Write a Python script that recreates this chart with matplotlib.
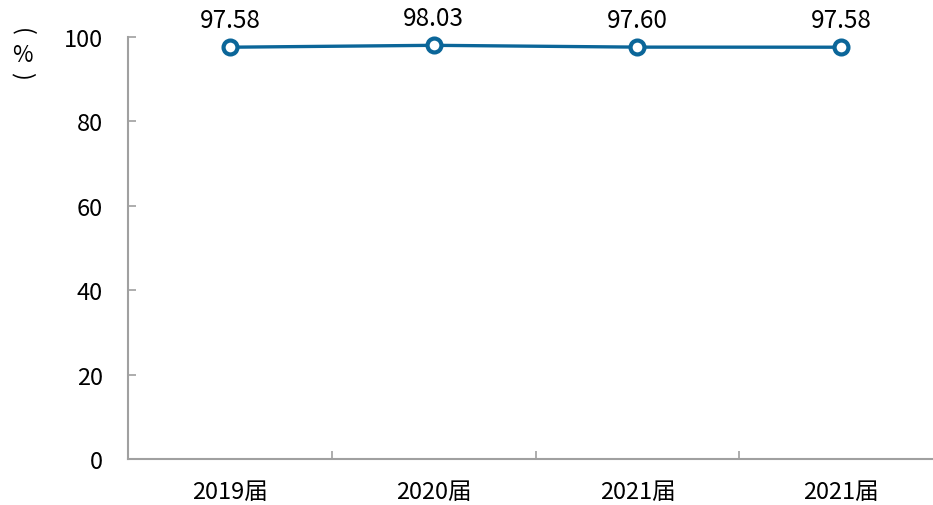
import matplotlib
matplotlib.use('Agg')
import matplotlib.pyplot as plt

plt.rcParams['font.family'] = ['Noto Sans CJK SC', 'DejaVu Sans']

categories = ['2019届', '2020届', '2021届', '2021届']
values = [97.58, 98.03, 97.60, 97.58]
labels = ['97.58', '98.03', '97.60', '97.58']
yticks = [0, 20, 40, 60, 80, 100]

line_color = '#0B6699'
axis_color = '#A0A0A0'

fig = plt.figure(figsize=(9.33, 5.06), dpi=100)
ax = fig.add_axes([128 / 933, 1 - 460 / 506, (933 - 128) / 933, (460 - 38) / 506])

x = list(range(len(categories)))
ax.plot(x, values, color=line_color, lw=2.4, marker='o', ms=10,
        mfc='white', mec=line_color, mew=3, zorder=3, clip_on=False)

for xi, v, t in zip(x, values, labels):
    ax.annotate(t, (xi, v), xytext=(0, 10), textcoords='offset points',
                ha='center', va='bottom', fontsize=17.5, color='black')

ax.set_ylim(0, 100)
ax.set_xlim(-0.5, 3.45)
ax.set_yticks(yticks)
ax.set_yticklabels([str(t) for t in yticks], fontsize=17)

# category boundaries as minor ticks on x
ax.set_xticks(x)
ax.set_xticklabels(categories, fontsize=17)
ax.tick_params(axis='x', which='major', length=0, pad=15)
ax.set_xticks([0.5, 1.5, 2.5], minor=True)
ax.tick_params(axis='x', which='minor', direction='in', length=6, color=axis_color, width=1.2)
ax.tick_params(axis='y', direction='in', length=6, color=axis_color, width=1.2, pad=18)

for s in ['top', 'right']:
    ax.spines[s].set_visible(False)
for s in ['left', 'bottom']:
    ax.spines[s].set_color(axis_color)
    ax.spines[s].set_linewidth(1.5)

# vertical unit label: （%）
fig.text(22 / 933, 1 - 32 / 506, '(', rotation=-90, ha='center', va='center', fontsize=17)
fig.text(22 / 933, 1 - 55 / 506, '%', ha='center', va='center', fontsize=16)
fig.text(22 / 933, 1 - 76 / 506, ')', rotation=-90, ha='center', va='center', fontsize=17)

fig.savefig('out.png', dpi=100)
